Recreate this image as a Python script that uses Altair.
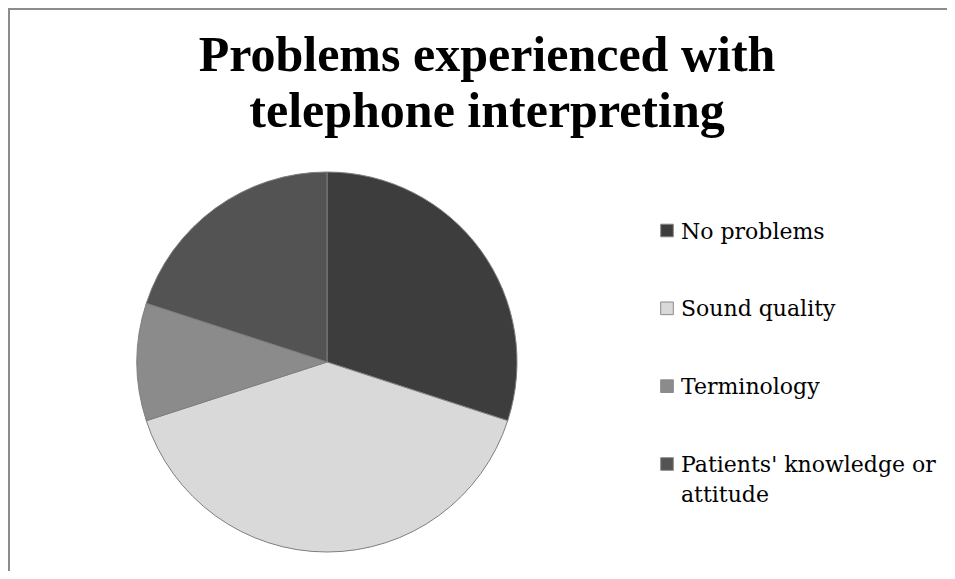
import altair as alt
import pandas as pd

# ---- data ----
categories = ["No problems", "Sound quality", "Terminology", "Patients' knowledge or attitude"]
values = [30, 40, 10, 20]
legend_labels = ["No problems", "Sound quality", "Terminology", "Patients' knowledge or\nattitude"]
colors = ["#3d3d3d", "#d9d9d9", "#8b8b8b", "#535353"]
title_lines = ["Problems experienced with", "telephone interpreting"]

df = pd.DataFrame({
    "category": categories,
    "value": values,
    "label": legend_labels,
    "order": list(range(len(categories))),
})
title_df = pd.DataFrame({"text": ["\n".join(title_lines)]})
frame_df = pd.DataFrame({"k": [0]})

W, H = 939, 563
CX, CY, R = 319, 354, 190

color = alt.Color("category:N", scale=alt.Scale(domain=categories, range=colors), legend=None)

shadow = alt.Chart(frame_df).mark_circle(
    size=3.14159 * (R + 1) ** 2, color="#8a8a8a", opacity=0.35
).encode(x=alt.value(CX + 1), y=alt.value(CY + 4))

pie = alt.Chart(df).mark_arc(radius=R, stroke="#7f7f7f", strokeWidth=1).encode(
    theta=alt.Theta("value:Q", stack=True),
    order=alt.Order("order:Q"),
    color=color,
    x=alt.value(CX),
    y=alt.value(CY),
)

ypos = alt.Y("category:N", sort=categories,
             scale=alt.Scale(range=[222.5, 456], padding=0), axis=None)

leg_sq = alt.Chart(df).mark_square(size=160, stroke="#8a8a8a", strokeWidth=1, opacity=1).encode(
    x=alt.value(659),
    y=ypos,
    color=color,
)

leg_txt = alt.Chart(df).mark_text(
    align="left", baseline="alphabetic", dy=8, font="DejaVu Serif", fontSize=22,
    lineBreak="\n", lineHeight=30, color="#000000"
).encode(
    x=alt.value(673),
    y=ypos,
    text="label:N",
)

title = alt.Chart(title_df).mark_text(
    align="center", baseline="alphabetic", font="Liberation Serif", fontWeight="bold",
    fontSize=50, lineBreak="\n", lineHeight=56, color="#000000"
).encode(x=alt.value(479), y=alt.value(63), text="text:N")

left_border = alt.Chart(frame_df).mark_rule(color="#8c8c8c", strokeWidth=2).encode(
    x=alt.value(1), y=alt.value(0), y2=alt.value(H))
top_border = alt.Chart(frame_df).mark_rule(color="#8c8c8c", strokeWidth=2).encode(
    x=alt.value(0), x2=alt.value(W), y=alt.value(1))

chart = alt.layer(shadow, pie, leg_sq, leg_txt, title, left_border, top_border).properties(
    width=W, height=H, padding=0,
    autosize=alt.AutoSizeParams(type="none"),
).configure_view(stroke=None).configure(background="white")

chart.save("out.html", embed_options={"renderer": "svg", "actions": False})
